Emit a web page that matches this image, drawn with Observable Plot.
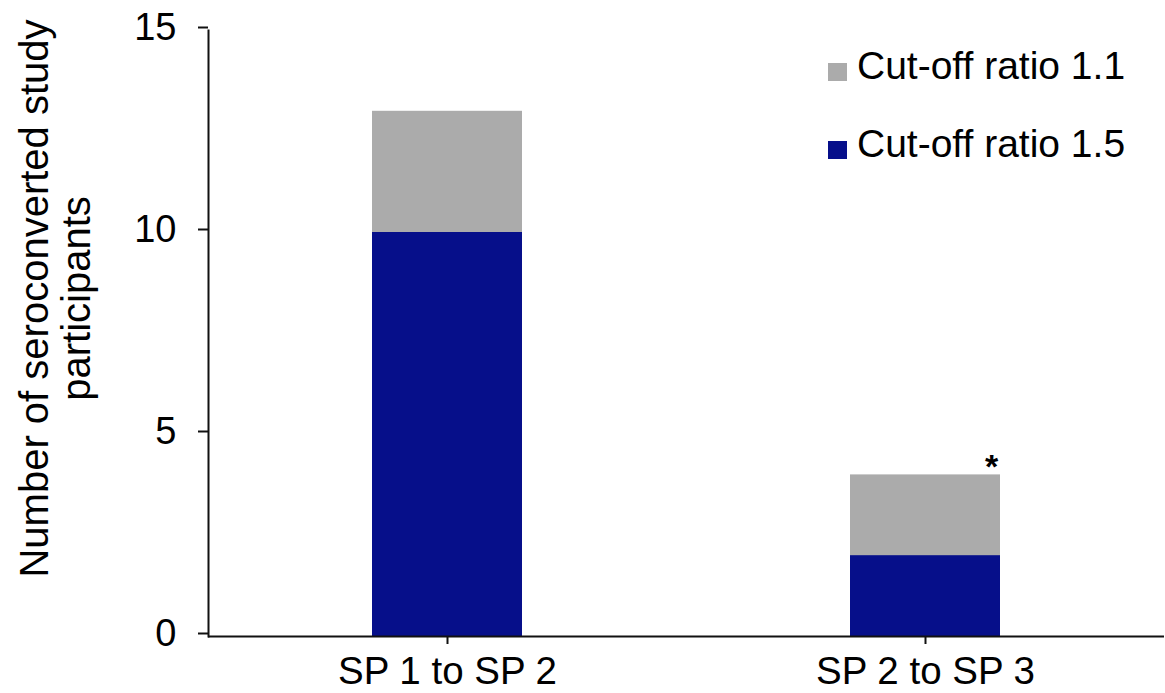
<!DOCTYPE html>
<html>
<head>
<meta charset="utf-8">
<script src="https://cdn.jsdelivr.net/npm/d3@7"></script>
<script src="https://cdn.jsdelivr.net/npm/@observablehq/plot@0.6"></script>
<style>
  html, body { margin: 0; padding: 0; background: #fff; }
  #wrap { position: relative; width: 1165px; height: 693px; font-family: "Liberation Sans", Arial, Helvetica, sans-serif; }
  .legend { position: absolute; left: 828px; font-size: 39px; color: #000; line-height: 1; }
  .legend .row { position: absolute; left: 0; white-space: nowrap; display: flex; align-items: flex-end; }
  .legend .sw { width: 19px; height: 18px; display: inline-block; margin-right: 10px; margin-bottom: 4px; }
</style>
</head>
<body>
<div id="wrap"></div>
<script>
const periods = ["SP 1 to SP 2", "SP 2 to SP 3"];
const cutoffs = ["Cut-off ratio 1.1", "Cut-off ratio 1.5"];
const countsRatio11 = [13, 4];
const countsRatio15 = [10, 2];
const colors = ["#ABABAB", "#060F8A"];
const yTicks = [0, 5, 10, 15];
const yLabel = "Number of seroconverted study\nparticipants";
const annotations = [{period: "SP 2 to SP 3", value: 4, text: "*"}];

const rows = [];
periods.forEach((p, i) => {
  rows.push({period: p, cutoff: cutoffs[0], value: countsRatio11[i]});
  rows.push({period: p, cutoff: cutoffs[1], value: countsRatio15[i]});
});

const font = '"Liberation Sans", Arial, Helvetica, sans-serif';

const chart = Plot.plot({
  width: 1165,
  height: 693,
  marginLeft: 208,
  marginRight: 1,
  marginTop: 30,
  marginBottom: 57,
  style: {fontFamily: font, fontSize: "38px", color: "#000", background: "#fff"},
  x: {domain: periods, paddingInner: 0.686, paddingOuter: 0.343, label: null},
  y: {domain: [0, 15], label: null},
  color: {domain: cutoffs, range: colors},
  marks: [
    Plot.barY(rows, {x: "period", y1: 0, y2: "value", fill: "cutoff"}),
    Plot.frame({anchor: "left", stroke: "#111", strokeWidth: 2}),
    Plot.ruleY([0], {stroke: "#111", strokeWidth: 2}),
    Plot.axisY({ticks: yTicks, tickSize: 10, tickPadding: 22, tickFormat: d => String(d), stroke: "#111", strokeWidth: 2, strokeOpacity: 1, label: null, fontSize: 38, dy: -3}),
    Plot.axisX({tickSize: 8, tickPadding: 12, stroke: "#111", strokeWidth: 2, strokeOpacity: 1, label: null, fontSize: 38.5}),
    Plot.text([yLabel], {text: d => d, frameAnchor: "left", rotate: -90, dx: -153, dy: -35, fontSize: 40, lineHeight: 1.05, textAnchor: "middle", lineAnchor: "middle", fill: "#000"}),
    Plot.text(annotations, {x: "period", y: "value", text: "text", dx: 66, dy: 3, lineAnchor: "bottom", fontSize: 34, fontWeight: "bold", fill: "#000"})
  ]
});

const wrap = document.getElementById("wrap");
wrap.appendChild(chart);

const legend = document.createElement("div");
legend.className = "legend";
legend.style.top = "0px";
const baselines = [77, 155];
cutoffs.forEach((c, i) => {
  const row = document.createElement("div");
  row.className = "row";
  row.style.top = (baselines[i] - 31) + "px";
  const sw = document.createElement("span");
  sw.className = "sw";
  sw.style.background = colors[i];
  const t = document.createElement("span");
  t.textContent = c;
  row.appendChild(sw);
  row.appendChild(t);
  legend.appendChild(row);
});
wrap.appendChild(legend);
</script>
</body>
</html>
